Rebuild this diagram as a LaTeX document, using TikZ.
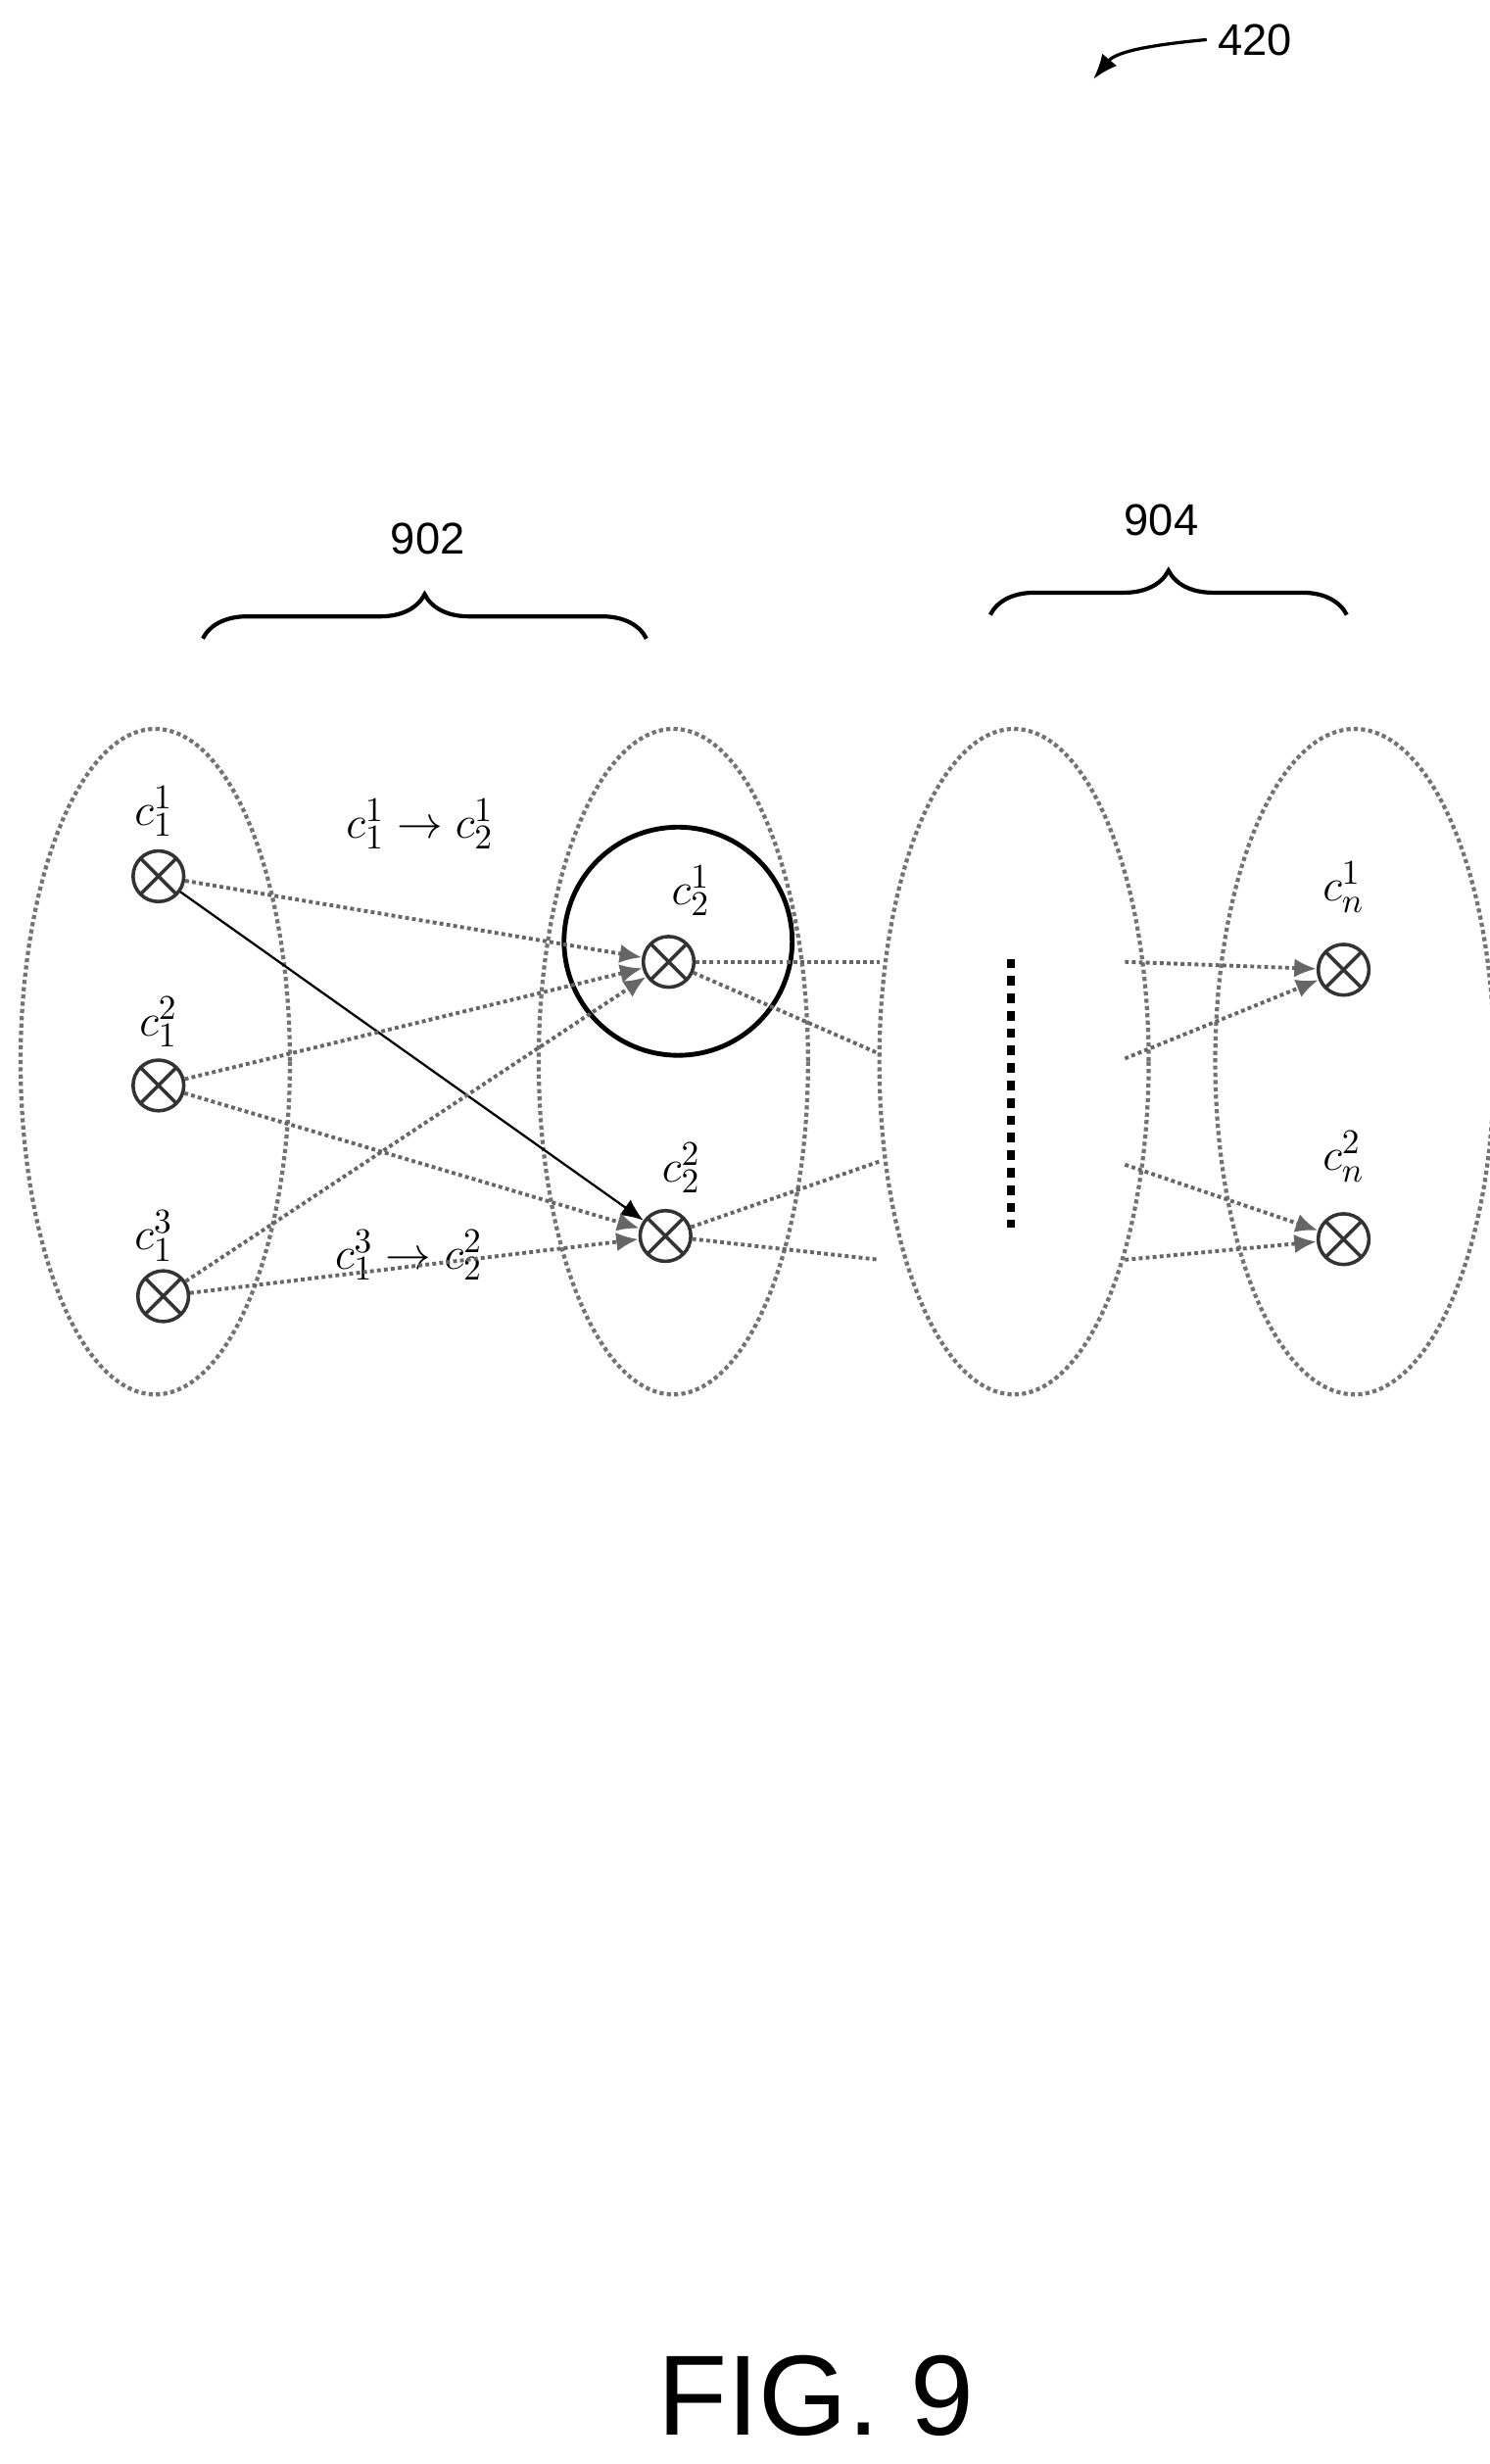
\documentclass[tikz,border=0pt]{standalone}
\usepackage{fontspec}
\setmainfont{Liberation Sans}
\usetikzlibrary{decorations.pathreplacing,arrows.meta}
\begin{document}
\begin{tikzpicture}[x=0.5pt,y=-0.5pt,
  grp/.style={draw=black!55,densely dotted,line width=1.3pt},
  cell/.style={circle,draw=black!80,line width=1.1pt,minimum size=16pt,inner sep=0pt,path picture={
    \draw[black!80,line width=1.1pt] ([xshift=-5.7pt,yshift=-5.7pt]path picture bounding box.center)--([xshift=5.7pt,yshift=5.7pt]path picture bounding box.center)
    ([xshift=-5.7pt,yshift=5.7pt]path picture bounding box.center)--([xshift=5.7pt,yshift=-5.7pt]path picture bounding box.center);}},
  lab/.style={font=\fontsize{15}{17}\selectfont},
  edge/.style={draw=black!60,line width=1.2pt,densely dotted,-{Latex[length=7pt,width=6pt]}},
  link/.style={draw=black!60,line width=1.2pt,densely dotted},
  num/.style={font=\fontsize{14}{16}\selectfont}]
\useasboundingbox (0,0) rectangle (940,1555);
% groups
\draw[grp] (98,670) ellipse [x radius=85,y radius=210];
\draw[grp] (425,670) ellipse [x radius=85,y radius=210];
\draw[grp] (640,670) ellipse [x radius=85,y radius=210];
\draw[grp] (855,670) ellipse [x radius=88,y radius=210];
% cells
\node[cell] (a1) at (100,553) {};
\node[cell] (a2) at (100,685) {};
\node[cell] (a3) at (103,818) {};
\node[cell] (b1) at (422,607) {};
\node[cell] (b2) at (420,780) {};
\node[cell] (n1) at (848,612) {};
\node[cell] (n2) at (848,782) {};
% labels
\node[lab] at (97,512) {$c_1^1$};
\node[lab] at (100,645) {$c_1^2$};
\node[lab] at (97,780) {$c_1^3$};
\node[lab] at (436,562) {$c_2^1$};
\node[lab] at (430,737) {$c_2^2$};
\node[lab] at (848,560) {$c_n^1$};
\node[lab] at (848,730) {$c_n^2$};
\node[lab] at (265,520) {$c_1^1\rightarrow c_2^1$};
\node[lab] at (258,792) {$c_1^3\rightarrow c_2^2$};
% highlight circle
\draw[line width=1.5pt] (428,594) circle [radius=72];
% dots
\draw[line width=2.5pt,dash pattern=on 3pt off 2.5pt] (638,605) -- (638,775);
% edges first layer
\draw[edge] (a1) -- (b1);
\draw[draw=black,line width=0.7pt,-{Latex[length=7pt,width=6pt]}] (a1) -- (b2);
\draw[edge] (a2) -- (b1);
\draw[edge] (a2) -- (b2);
\draw[edge] (a3) -- (b1);
\draw[edge] (a3) -- (b2);
% to middle group
\coordinate (m1) at (555,607); \coordinate (m2) at (555,665);
\coordinate (m3) at (555,733); \coordinate (m4) at (555,795);
\coordinate (r1) at (710,607); \coordinate (r2) at (710,668);
\coordinate (r3) at (710,735); \coordinate (r4) at (710,795);
\draw[link] (b1) -- (m1); \draw[link] (b1) -- (m2);
\draw[link] (b2) -- (m3); \draw[link] (b2) -- (m4);
\draw[edge] (r1) -- (n1); \draw[edge] (r2) -- (n1);
\draw[edge] (r3) -- (n2); \draw[edge] (r4) -- (n2);
% braces
\draw[line width=1.3pt,decorate,decoration={brace,amplitude=14pt}] (128,403) -- (408,403);
\node[num] at (270,340) {902};
\draw[line width=1.3pt,decorate,decoration={brace,amplitude=14pt}] (625,388) -- (850,388);
\node[num] at (733,328) {904};
% ref
\node[num] (ref) at (792,25) {420};
\coordinate (refend) at (690,50);
\draw[line width=1pt,-{Latex[length=8pt,width=6pt]}] (ref.west) .. controls (730,28) and (705,32) .. (refend);
\node[font=\fontsize{36}{42}\selectfont] (fig) at (515,1512) {FIG. 9};
\end{tikzpicture}
\end{document}
